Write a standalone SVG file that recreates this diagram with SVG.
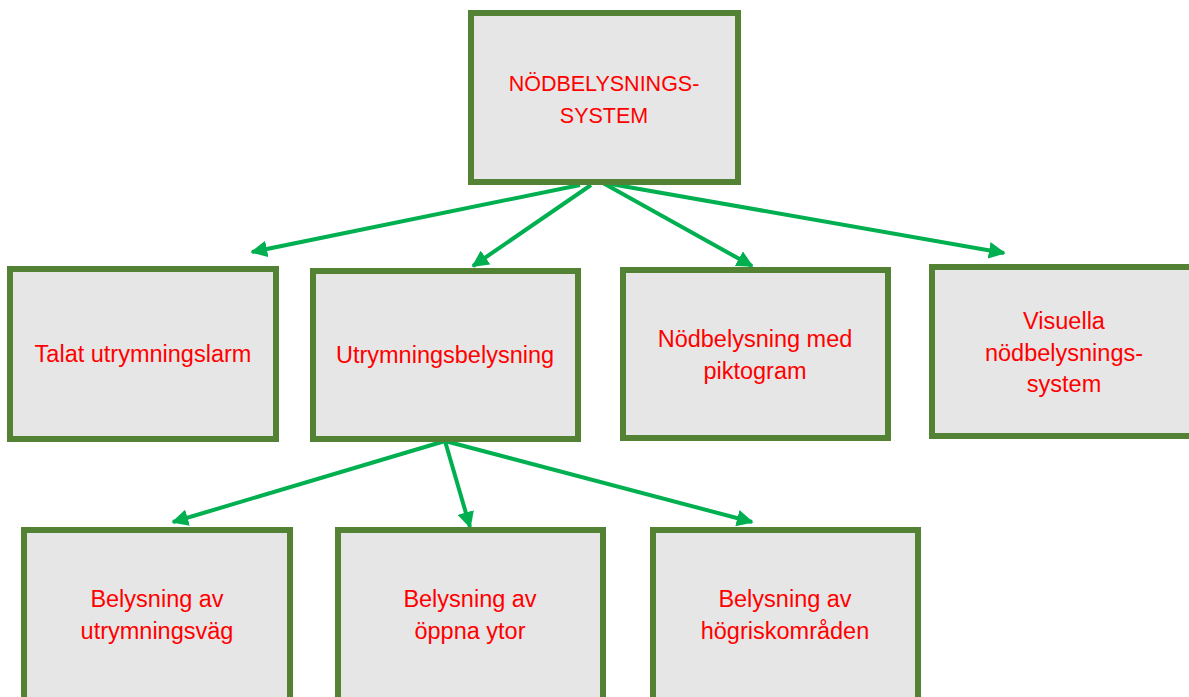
<svg xmlns="http://www.w3.org/2000/svg" width="1189" height="697" viewBox="0 0 1189 697">
<defs>
<style>
.box{fill:#e7e6e6;stroke:#548235;stroke-width:6}
.t{font-family:"Liberation Sans",Arial,sans-serif;font-size:23.5px;fill:#ff0000;text-anchor:middle}
.caps{font-size:21.5px}
.c{stroke:#00b050;stroke-width:4;fill:none;marker-end:url(#ah)}
</style>
<marker id="ah" viewBox="0 0 10 10" refX="9" refY="5" markerWidth="4.2" markerHeight="4.2" orient="auto" markerUnits="strokeWidth">
<path d="M0,0 L10,5 L0,10 z" fill="#00b050"/>
</marker>
</defs>
<rect width="1189" height="697" fill="#ffffff"/>
<g id="connectors">
<line class="c" x1="580" y1="185" x2="252" y2="252"/>
<line class="c" x1="591" y1="185" x2="473" y2="266"/>
<line class="c" x1="603" y1="183" x2="752" y2="266"/>
<line class="c" x1="605" y1="183" x2="1004" y2="253"/>
<line class="c" x1="445" y1="441" x2="173" y2="522"/>
<line class="c" x1="445" y1="441" x2="470" y2="527"/>
<line class="c" x1="445" y1="441" x2="752" y2="522"/>
</g>
<g id="n-root">
<rect class="box" x="471" y="13" width="267" height="169"/>
<text class="t caps" x="604" y="91">NÖDBELYSNINGS-</text>
<text class="t caps" x="604" y="123">SYSTEM</text>
</g>
<g id="n-talat">
<rect class="box" x="10" y="269" width="266" height="170"/>
<text class="t" x="143" y="362">Talat utrymningslarm</text>
</g>
<g id="n-utrym">
<rect class="box" x="313" y="271" width="265" height="168"/>
<text class="t" x="445" y="363">Utrymningsbelysning</text>
</g>
<g id="n-pikto">
<rect class="box" x="623" y="270" width="265" height="168"/>
<text class="t" x="755" y="347">Nödbelysning med</text>
<text class="t" x="755" y="379">piktogram</text>
</g>
<g id="n-visuella">
<rect class="box" x="932" y="267" width="265" height="169"/>
<text class="t" x="1064" y="329">Visuella</text>
<text class="t" x="1064" y="361">nödbelysnings-</text>
<text class="t" x="1064" y="392">system</text>
</g>
<g id="n-vag">
<rect class="box" x="24" y="530" width="266" height="180"/>
<text class="t" x="157" y="607">Belysning av</text>
<text class="t" x="157" y="639">utrymningsväg</text>
</g>
<g id="n-oppna">
<rect class="box" x="338" y="530" width="265" height="180"/>
<text class="t" x="470" y="607">Belysning av</text>
<text class="t" x="470" y="639">öppna ytor</text>
</g>
<g id="n-hogrisk">
<rect class="box" x="653" y="530" width="265" height="180"/>
<text class="t" x="785" y="607">Belysning av</text>
<text class="t" x="785" y="639">högriskområden</text>
</g>
</svg>
